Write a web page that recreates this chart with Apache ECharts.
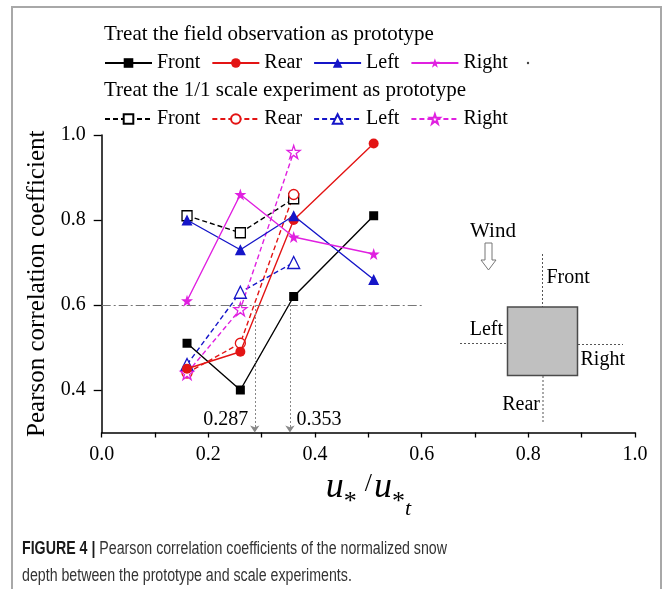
<!DOCTYPE html>
<html>
<head>
<meta charset="utf-8">
<script src="https://cdn.jsdelivr.net/npm/echarts@6/dist/echarts.min.js"></script>
<style>
html,body{margin:0;padding:0;background:#fff;}
#chart{width:664px;height:589px;}
</style>
</head>
<body>
<div id="chart"></div>
<script>
// ---- data ----
const xField = [0.16, 0.26, 0.36, 0.51];
const xScale = [0.16, 0.26, 0.36];
const fieldFront = [0.51, 0.40, 0.62, 0.81];
const fieldRear  = [0.45, 0.49, 0.80, 0.98];
const fieldLeft  = [0.80, 0.73, 0.81, 0.66];
const fieldRight = [0.61, 0.86, 0.76, 0.72];
const scaleFront = [0.81, 0.77, 0.85];
const scaleRear  = [0.44, 0.51, 0.86];
const scaleLeft  = [0.46, 0.63, 0.70];
const scaleRight = [0.44, 0.59, 0.96];
const seriesNames = ['Front', 'Rear', 'Left', 'Right'];
const thresholdY = 0.6;
const thresholdXEnd = 0.6;
const critical = [0.287, 0.353];
const yTicks = [0.4, 0.6, 0.8, 1.0];

const SERIF = "'Liberation Serif', 'Times New Roman', serif";
const SANS = "'Liberation Sans', Arial, sans-serif";
const COL = { Front: '#000000', Rear: '#e31414', Left: '#1515c8', Right: '#e020e0' };
const STAR = 'path://M50,0 L61.8,35.4 L98.5,35.4 L68.8,57.3 L79.9,92.7 L50,70.8 L20.1,92.7 L31.2,57.3 L1.5,35.4 L38.2,35.4 Z';
const SYM = { Front: 'rect', Rear: 'circle', Left: 'triangle', Right: STAR };
const SIZE_F = { Front: 9, Rear: 10, Left: 11, Right: 12 };
const SIZE_S = { Front: 10, Rear: 10, Left: 12, Right: 13 };

function pairs(xs, ys) { return xs.map((x, i) => [x, ys[i]]); }

const fieldData = { Front: fieldFront, Rear: fieldRear, Left: fieldLeft, Right: fieldRight };
const scaleData = { Front: scaleFront, Rear: scaleRear, Left: scaleLeft, Right: scaleRight };

const series = [];
seriesNames.forEach(n => {
  series.push({
    name: n, type: 'line', data: pairs(xField, fieldData[n]),
    symbol: SYM[n], symbolSize: SIZE_F[n],
    lineStyle: { color: COL[n], width: 1.4, type: 'solid' },
    itemStyle: { color: COL[n] },
    z: 3
  });
});
seriesNames.forEach(n => {
  series.push({
    name: n + ' ', type: 'line', data: pairs(xScale, scaleData[n]),
    symbol: SYM[n], symbolSize: SIZE_S[n],
    lineStyle: { color: COL[n], width: 1.4, type: [5, 3] },
    itemStyle: { color: '#ffffff', borderColor: COL[n], borderWidth: 1.3 },
    z: 2
  });
});

// reference lines and annotations
series[0].markLine = {
  silent: true, animation: false,
  label: { show: false },
  data: [
    [{ coord: [0, thresholdY], symbol: 'none', lineStyle: { color: '#777', width: 1.2, type: [9, 3, 2, 3] } },
     { coord: [thresholdXEnd, thresholdY], symbol: 'none' }],
    [{ coord: [critical[0], thresholdY], symbol: 'none', lineStyle: { color: '#888', width: 1, type: [2, 2] } },
     { coord: [critical[0], 0.3], symbol: 'arrow', symbolSize: 7 }],
    [{ coord: [critical[1], thresholdY], symbol: 'none', lineStyle: { color: '#888', width: 1, type: [2, 2] } },
     { coord: [critical[1], 0.3], symbol: 'arrow', symbolSize: 7 }]
  ],
  symbol: ['none', 'arrow']
};
series[0].markPoint = {
  silent: true, animation: false,
  symbol: 'circle', symbolSize: 1,
  itemStyle: { color: 'rgba(0,0,0,0)' },
  data: [
    { coord: [critical[0], 0.33], label: { show: true, position: 'left', distance: 6, formatter: String(critical[0]), fontFamily: SERIF, fontSize: 20, color: '#000' } },
    { coord: [critical[1], 0.33], label: { show: true, position: 'right', distance: 6, formatter: String(critical[1]), fontFamily: SERIF, fontSize: 20, color: '#000' } }
  ]
};

const legendCommon = {
  orient: 'horizontal', padding: 0, itemGap: 11, itemWidth: 47, itemHeight: 12,
  textStyle: { fontFamily: SERIF, fontSize: 20, color: '#000' },
  formatter: name => name.trim(),
  selectedMode: false
};

// caption text, condensed horizontally to match the narrow figure-caption face
const CAP_SIZE = 17.5;
const capLine1Bold = 'FIGURE 4 |';
const capLine1Rest = ' Pearson correlation coefficients of the normalized snow';
const capLine2 = 'depth between the prototype and scale experiments.';
const mctx = document.createElement('canvas').getContext('2d');
mctx.font = "bold " + CAP_SIZE + "px 'Liberation Sans'";
const wB = mctx.measureText(capLine1Bold).width;
mctx.font = CAP_SIZE + "px 'Liberation Sans'";
const wR = mctx.measureText(capLine1Rest).width;
const capScale = 425 / (wB + wR);

const option = {
  backgroundColor: '#ffffff',
  animation: false,
  title: [
    { text: 'Treat the field observation as prototype', left: 104, top: 24, padding: 0,
      textStyle: { fontFamily: SERIF, fontSize: 21, fontWeight: 'normal', color: '#000' } },
    { text: 'Treat the 1/1 scale experiment as prototype', left: 104, top: 80, padding: 0,
      textStyle: { fontFamily: SERIF, fontSize: 21, fontWeight: 'normal', color: '#000' } }
  ],
  legend: [
    Object.assign({}, legendCommon, { left: 104, top: 53, data: seriesNames.slice() }),
    Object.assign({}, legendCommon, { left: 104, top: 109, data: seriesNames.map(n => n + ' ') })
  ],
  grid: { left: 101.7, right: 29, top: 135, bottom: 156.5, containLabel: false },
  xAxis: {
    type: 'value', min: 0, max: 1, interval: 0.1,
    axisLine: { show: true, onZero: false, lineStyle: { color: '#000', width: 1.5 } },
    axisTick: { show: true, inside: false, length: 5, lineStyle: { color: '#000', width: 1.3 } },
    axisLabel: { margin: 12, fontFamily: SERIF, fontSize: 20, color: '#000',
      formatter: v => (Math.round(v * 10) % 2 === 0 ? v.toFixed(1) : '') },
    splitLine: { show: false },
    name: '{u|u}{s|*}{sl|/}{u|u}{s|*}{t|t}',
    nameLocation: 'middle', nameGap: 34,
    nameTextStyle: {
      rich: {
        u: { fontFamily: SERIF, fontStyle: 'italic', fontSize: 36, lineHeight: 38, verticalAlign: 'top', color: '#000' },
        s: { fontFamily: SERIF, fontSize: 26, lineHeight: 26, padding: [20, 0, 0, 0], verticalAlign: 'top', color: '#000' },
        sl: { fontFamily: SERIF, fontSize: 26, lineHeight: 30, padding: [2, 2, 0, 8], verticalAlign: 'top', color: '#000' },
        t: { fontFamily: SERIF, fontStyle: 'italic', fontSize: 22, lineHeight: 22, verticalAlign: 'top', color: '#000', padding: [29, 0, 0, 0] }
      }
    }
  },
  yAxis: {
    type: 'value', min: 0.3, max: 1.0,
    axisLine: { show: true, onZero: false, lineStyle: { color: '#000', width: 1.5 } },
    axisTick: { show: true, inside: false, length: 8, customValues: yTicks, lineStyle: { color: '#000', width: 1.3 } },
    axisLabel: { margin: 16, fontFamily: SERIF, fontSize: 20, color: '#000', customValues: yTicks,
      formatter: v => v.toFixed(1) },
    splitLine: { show: false },
    name: 'Pearson correlation coefficient',
    nameLocation: 'middle', nameGap: 52,
    nameTextStyle: { fontFamily: SERIF, fontSize: 25, color: '#000' }
  },
  graphic: [
    { type: 'rect', shape: { x: 12, y: 7, width: 649, height: 650 }, silent: true,
      style: { fill: 'none', stroke: '#a8a8a8', lineWidth: 2 }, z: -10 },
    { type: 'circle', shape: { cx: 528, cy: 63, r: 1.2 }, style: { fill: '#444' } },
    // wind schematic
    { type: 'text', x: 493, y: 231, style: { text: 'Wind', fontFamily: SERIF, fontSize: 21, fill: '#000', align: 'center', verticalAlign: 'middle' } },
    { type: 'polygon', shape: { points: [[485, 243], [492, 243], [492, 260], [496, 260], [488.5, 270], [481, 260], [485, 260]] },
      style: { fill: '#fff', stroke: '#777', lineWidth: 1 } },
    { type: 'line', shape: { x1: 542.5, y1: 254, x2: 542.5, y2: 307 }, style: { stroke: '#555', lineWidth: 1, lineDash: [2, 2] } },
    { type: 'line', shape: { x1: 543, y1: 376, x2: 543, y2: 422 }, style: { stroke: '#555', lineWidth: 1, lineDash: [2, 2] } },
    { type: 'line', shape: { x1: 460, y1: 343.5, x2: 507, y2: 343.5 }, style: { stroke: '#555', lineWidth: 1, lineDash: [2, 2] } },
    { type: 'line', shape: { x1: 578, y1: 344.5, x2: 623, y2: 344.5 }, style: { stroke: '#555', lineWidth: 1, lineDash: [2, 2] } },
    { type: 'rect', shape: { x: 507.5, y: 307, width: 70, height: 68.5 }, style: { fill: '#c0c0c0', stroke: '#4a4a4a', lineWidth: 1.5 } },
    { type: 'text', x: 546.5, y: 278, style: { text: 'Front', fontFamily: SERIF, fontSize: 20, fill: '#000', align: 'left', verticalAlign: 'middle' } },
    { type: 'text', x: 503, y: 330, style: { text: 'Left', fontFamily: SERIF, fontSize: 20, fill: '#000', align: 'right', verticalAlign: 'middle' } },
    { type: 'text', x: 580.5, y: 360, style: { text: 'Right', fontFamily: SERIF, fontSize: 20, fill: '#000', align: 'left', verticalAlign: 'middle' } },
    { type: 'text', x: 540, y: 405, style: { text: 'Rear', fontFamily: SERIF, fontSize: 20, fill: '#000', align: 'right', verticalAlign: 'middle' } },
    // caption
    { type: 'text', x: 22, y: 549, scaleX: capScale, scaleY: 1,
      style: { text: '{b|' + capLine1Bold + '}' + capLine1Rest, fontFamily: SANS, fontSize: CAP_SIZE, fill: '#333',
        verticalAlign: 'middle', align: 'left',
        rich: { b: { fontFamily: SANS, fontSize: CAP_SIZE, fontWeight: 'bold', fill: '#1a1a1a' } } } },
    { type: 'text', x: 22, y: 576, scaleX: capScale, scaleY: 1,
      style: { text: capLine2, fontFamily: SANS, fontSize: CAP_SIZE, fill: '#333', verticalAlign: 'middle', align: 'left' } }
  ],
  series: series
};

const chart = echarts.init(document.getElementById('chart'), null, { renderer: 'canvas' });
chart.setOption(option);
</script>
</body>
</html>
